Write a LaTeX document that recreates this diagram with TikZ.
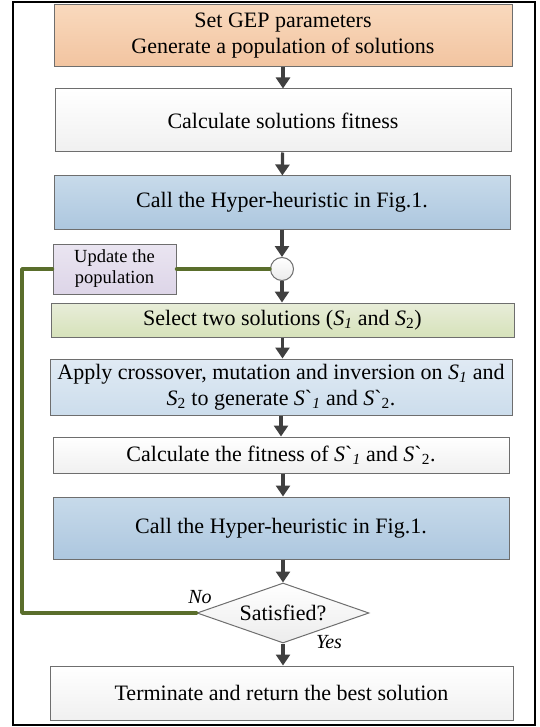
\documentclass[tikz,border=0pt]{standalone}
\usepackage{fontspec}
\setmainfont{Liberation Serif}
\usetikzlibrary{arrows.meta,shapes.geometric}

\definecolor{edgegray}{HTML}{6E6E6E}
\definecolor{arrowgray}{HTML}{404040}
\definecolor{loopgreen}{HTML}{5A6E2C}

\newcommand{\sub}[2]{\textit{#1}\textsubscript{\textit{#2}}}
\newcommand{\subup}[2]{\textit{#1}\textsubscript{#2}}

\tikzset{
  stepbox/.style={draw=edgegray, line width=1pt, inner sep=0pt, align=center,
    font=\fontsize{22}{26}\selectfont},
  flow/.style={draw=arrowgray, line width=3.2pt, -{Triangle[width=14pt,length=11pt]}},
  loopline/.style={draw=loopgreen, line width=3.4pt, line cap=round, line join=round},
  answer/.style={font=\fontsize{20}{24}\selectfont\itshape}
}

\begin{document}
\begin{tikzpicture}[x=1pt,y=-1pt]
    \useasboundingbox (0,0) rectangle (539,727);
    \draw[line width=1.3pt] (13,2) rectangle (535,725);
    \node[stepbox, top color={rgb,255:red,249;green,217;blue,189}, bottom color={rgb,255:red,242;green,196;blue,160},
      minimum width=458pt, minimum height=62pt] (setp) at (283,36)
      {Set GEP parameters\\Generate a population of solutions};
    \node[stepbox, top color=white, bottom color={rgb,255:red,240;green,240;blue,240},
      minimum width=456pt, minimum height=63pt] (calc) at (283,120.5) {Calculate solutions fitness};
    \node[stepbox, top color={rgb,255:red,199;green,218;blue,234}, bottom color={rgb,255:red,173;green,199;blue,223},
      minimum width=456pt, minimum height=53pt] (hyperA) at (282,202.5) {Call the Hyper-heuristic in Fig.1.};
    \node[circle, draw=edgegray, line width=1pt, top color=white, bottom color={rgb,255:red,235;green,235;blue,235},
      minimum size=23pt, inner sep=0pt] (join) at (282,269) {};
    \node[stepbox, top color={rgb,255:red,234;green,229;blue,241}, bottom color={rgb,255:red,221;green,213;blue,232},
      minimum width=123pt, minimum height=50pt, font=\fontsize{18.5}{21}\selectfont] (update) at (114.5,269)
      {Update the\\population};
    \node[stepbox, top color={rgb,255:red,232;green,237;blue,217}, bottom color={rgb,255:red,214;green,226;blue,186},
      minimum width=463pt, minimum height=34pt] (select) at (282.5,320)
      {Select two solutions (\sub{S}{1} and \subup{S}{2})};
    \node[stepbox, top color={rgb,255:red,224;green,234;blue,244}, bottom color={rgb,255:red,204;green,221;blue,236},
      minimum width=462pt, minimum height=56pt] (apply) at (281,387)
      {Apply crossover, mutation and inversion on \sub{S}{1} and\\
       \subup{S}{2} to generate \textit{S}\textasciigrave\textsubscript{\textit{1}} and \textit{S}\textasciigrave\textsubscript{2}.};
    \node[stepbox, top color=white, bottom color={rgb,255:red,240;green,240;blue,240},
      minimum width=456pt, minimum height=36pt] (fit) at (281,455)
      {Calculate the fitness of \textit{S}\textasciigrave\textsubscript{\textit{1}} and \textit{S}\textasciigrave\textsubscript{2}.};
    \node[stepbox, top color={rgb,255:red,199;green,218;blue,234}, bottom color={rgb,255:red,173;green,199;blue,223},
      minimum width=456pt, minimum height=62pt] (hyperB) at (281,528) {Call the Hyper-heuristic in Fig.1.};
    \node[stepbox, diamond, aspect=2.87, top color=white, bottom color={rgb,255:red,236;green,236;blue,236},
      minimum width=172pt, minimum height=60pt] (sat) at (283,613) {Satisfied?};
    \node[stepbox, top color=white, bottom color={rgb,255:red,240;green,240;blue,240},
      minimum width=463pt, minimum height=54pt] (term) at (281.5,693) {Terminate and return the best solution};
    % main flow
    \draw[flow] (setp) -- (calc);
    \draw[flow] (calc) -- (hyperA);
    \draw[flow] (hyperA.south -| join) -- (join);
    \draw[flow] (join) -- (select.north -| join);
    \draw[flow] (select) -- (select|-apply.north);
    \draw[flow] (apply) -- (apply|-fit.north);
    \draw[flow] (fit.south -| sat) -- (hyperB.north -| sat);
    \draw[flow] (hyperB.south -| sat) -- (sat);
    \draw[flow] (sat) -- (term.north -| sat);
    % loop back
    \coordinate (bend) at (22,613);
    \draw[loopline] (join) -- (update);
    \draw[loopline] (sat.west) -- (bend) |- (update.west);
    \node[answer] (no) at (200,597) {No};
    \node[answer] (yes) at (329,642) {Yes};
\end{tikzpicture}
\end{document}
